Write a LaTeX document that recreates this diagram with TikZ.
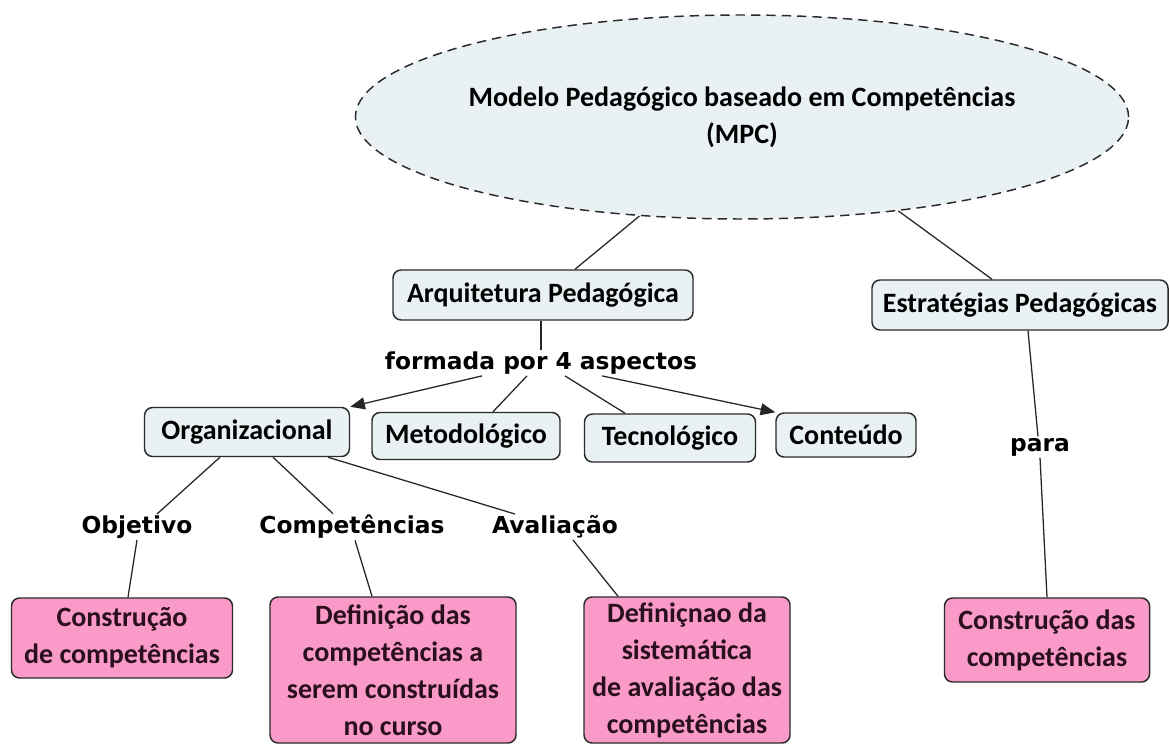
\documentclass[tikz,border=0pt]{standalone}
\usepackage{fontspec}
\setmainfont{Carlito}
\newfontfamily\rotulofont{DejaVu Sans}
\usetikzlibrary{arrows.meta, shapes.geometric, calc}

\definecolor{cinzaazul}{HTML}{EAF1F4}
\definecolor{rosa}{HTML}{F99AC9}
\definecolor{borda}{HTML}{2A2A2A}
\definecolor{vinho}{HTML}{2A0F1C}

\begin{document}
\begin{tikzpicture}[
  x=0.75pt, y=-0.75pt,
  font=\bfseries\fontsize{21pt}{27.75pt}\selectfont,
  caixa/.style={
    rounded corners=6pt, draw=borda, line width=1.1pt, fill=#1,
    inner sep=2pt, align=center
  },
  rotulo/.style={font=\rotulofont\bfseries\fontsize{17.5pt}{21pt}\selectfont, inner sep=1pt},
  liga/.style={draw=black!85, line width=0.95pt},
  seta/.style={liga, -{Triangle[length=11pt, width=9pt]}}
]
  \fill[white] (0,0) rectangle (1170,745);

  % topo
  \node[ellipse, draw=borda, dash pattern=on 7pt off 4.5pt, line width=1.1pt, fill=cinzaazul,
        minimum width=455.25pt, minimum height=153pt, inner sep=0pt, align=center]
        (mpc) at (742,117) {Modelo Pedagógico baseado em Competências\\(MPC)};
  \node[caixa=cinzaazul, minimum width=225pt, minimum height=37.5pt] (arq) at (543,295) {Arquitetura Pedagógica};
  \node[caixa=cinzaazul, minimum width=222pt, minimum height=37.5pt] (estr) at (1020,305) {Estratégias Pedagógicas};

  % aspectos
  \node[rotulo] (formada) at (541,363) {formada por 4 aspectos};
  \node[caixa=cinzaazul, minimum width=153.75pt, minimum height=36.75pt] (org) at (247,432) {Organizacional};
  \node[caixa=cinzaazul, minimum width=141pt, minimum height=35.25pt] (met) at (466,436) {Metodológico};
  \node[caixa=cinzaazul, minimum width=128.25pt, minimum height=36pt] (tec) at (670,438) {Tecnológico};
  \node[caixa=cinzaazul, minimum width=105pt, minimum height=33pt] (cont) at (846,435) {Conteúdo};

  % rotulos das ligacoes
  \node[rotulo] (obj) at (137,527) {Objetivo};
  \node[rotulo] (comp) at (352,527) {Competências};
  \node[rotulo] (aval) at (555,527) {Avaliação};
  \node[rotulo] (para) at (1040,447) {para};

  % caixas rosa
  \node[caixa=rosa, text=vinho, minimum width=165.75pt, minimum height=60pt] (c1) at (122,638) {Construção\\de competências};
  \node[caixa=rosa, text=vinho, minimum width=184.5pt, minimum height=109.5pt] (d1) at (393,670) {Definição das\\competências a\\serem construídas\\no curso};
  \node[caixa=rosa, text=vinho, minimum width=154.5pt, minimum height=109.5pt] (d2) at (687,670) {Definiçnao da\\sistemática\\de avaliação das\\competências};
  \node[caixa=rosa, text=vinho, minimum width=153.75pt, minimum height=63pt] (c2) at (1047,640) {Construção das\\competências};

  % ligacoes
  \draw[liga] (mpc.224) -- ($(arq.north)+(32,0)$);
  \draw[liga] (mpc.-31) -- ($(estr.north)+(-28,0)$);
  \draw[liga] (arq.south -| formada.north) -- (formada.north);
  \draw[seta] ($(formada.south)+(-59,0)$) -- (org.north east);
  \draw[liga] ($(formada.south)+(-14,0)$) -- ($(met.north)+(27,0)$);
  \draw[liga] ($(formada.south)+(24,0)$) -- ($(tec.north)+(-45,0)$);
  \draw[seta] ($(formada.south)+(61,0)$) -- (cont.north west);
  \draw[liga] ($(org.south)+(-27,0)$) -- ($(obj.north)+(20,0)$);
  \draw[liga] ($(org.south)+(26,0)$) -- ($(comp.north)+(-19,0)$);
  \draw[liga] ($(org.south)+(81,0)$) -- ($(aval.north)+(-40,0)$);
  \draw[liga] (obj.south) -- ($(c1.north)+(6,0)$);
  \draw[liga] ($(comp.south)+(3,0)$) -- ($(d1.north)+(-21,0)$);
  \draw[liga] ($(aval.south)+(18,0)$) -- ($(d2.north)+(-69,0)$);
  \draw[liga] ($(estr.south)+(8,0)$) -- ($(para.north)+(-2,0)$);
  \draw[liga] (para.south) -- (c2.north);
\end{tikzpicture}
\end{document}
